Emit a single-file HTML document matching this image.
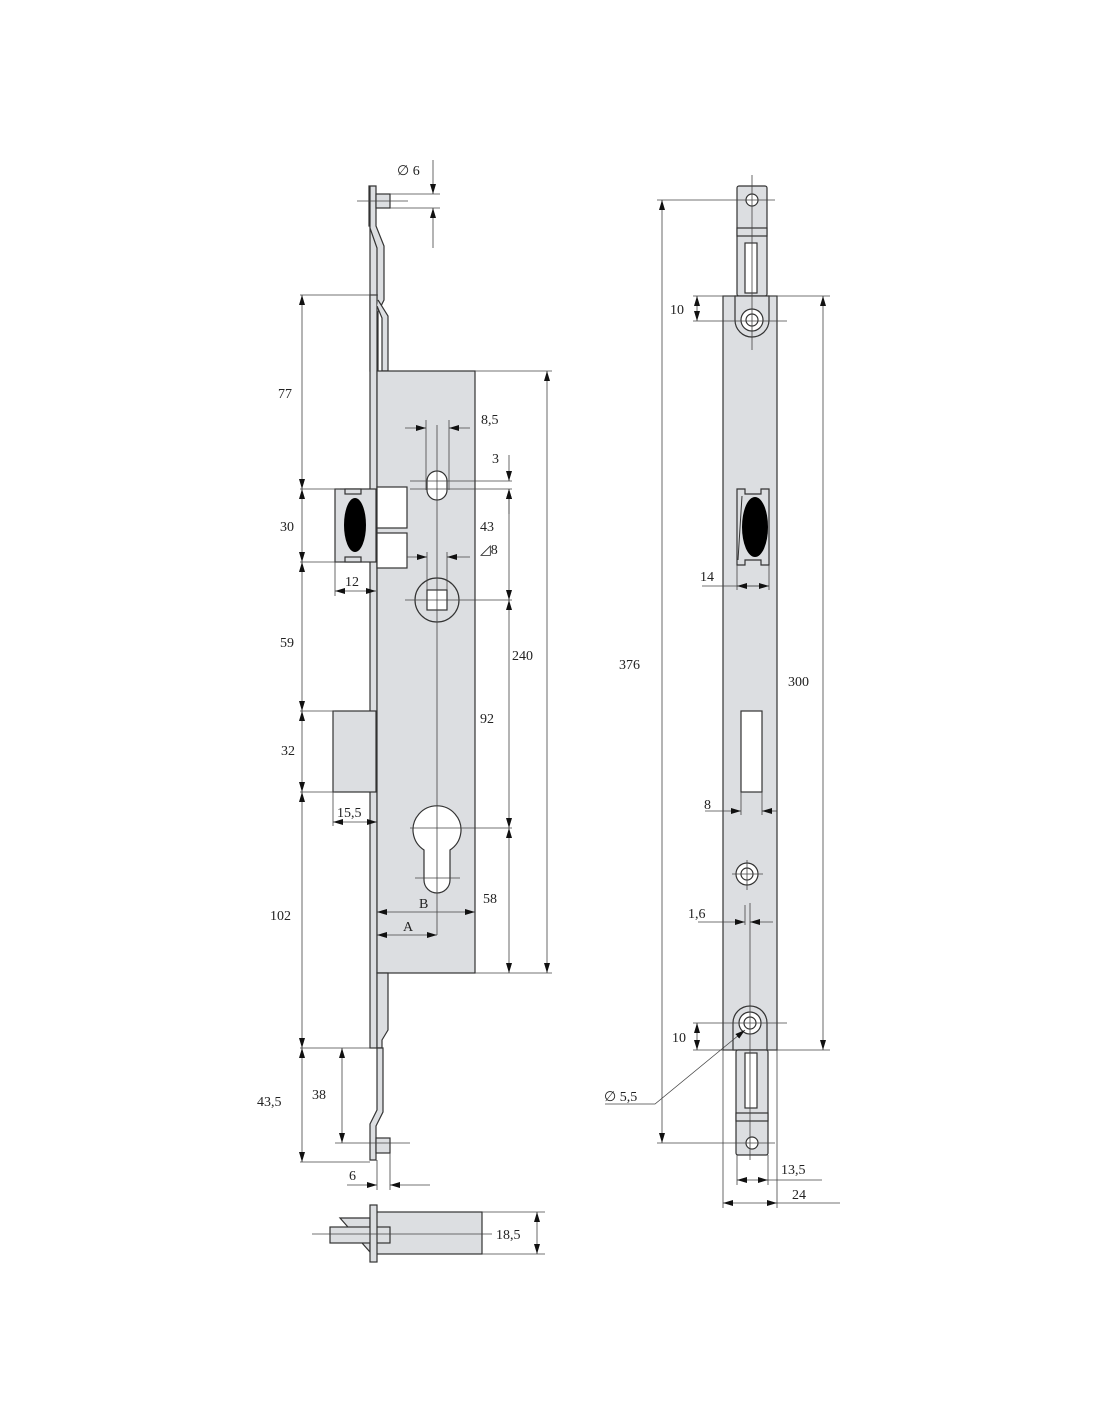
<!DOCTYPE html>
<html><head><meta charset="utf-8"><style>
html,body{margin:0;padding:0;background:#fff}
svg{display:block}
text{font-family:"Liberation Serif",serif;font-size:14px;fill:#222}
</style></head><body>
<svg width="1100" height="1422" viewBox="0 0 1100 1422" xmlns="http://www.w3.org/2000/svg">
<defs>
<marker id="a" viewBox="0 0 10 6" refX="10" refY="3" markerWidth="10" markerHeight="6" orient="auto-start-reverse" markerUnits="userSpaceOnUse"><path d="M0,0L10,3L0,6z" fill="#111"/></marker>
</defs>
<g fill="#dcdee1" stroke="#333" stroke-width="1.2">
<path d="M369,186 L376,186 L376,226 L384,246 L384,300 L378,312 L378,371 L370,371 L370,226 L369,226 Z" />
<path d="M370,186 L370,228 L377,248 L377,300"/>
<rect x="376" y="194" width="14" height="14"/>
<rect x="370" y="295" width="7" height="753"/>
<path d="M378,300 L388,316 L388,371 L382,371 L382,318 L377,306" />
<rect x="377" y="371" width="98" height="602"/>
<rect x="335" y="489" width="41" height="73"/>
<rect x="345" y="489" width="16" height="5"/>
<rect x="345" y="557" width="16" height="5"/>
<rect x="377" y="487" width="30" height="41" fill="#fff"/>
<rect x="377" y="533" width="30" height="35" fill="#fff"/>
<rect x="333" y="711" width="43" height="81"/>
<path d="M377,973 L388,973 L388,1030 L382,1040 L382,1048 L377,1048 Z"/>
<path d="M377,1048 L383,1048 L383,1112 L376,1126 L376,1160 L370,1160 L370,1124 L377,1110 Z"/>
<rect x="376" y="1138" width="14" height="15"/>
<rect x="376" y="1212" width="106" height="42"/>
<path d="M340,1218 L370,1218 L370,1252 Z"/>
<rect x="330" y="1227" width="60" height="16" fill="#dcdee1"/>
<rect x="370" y="1205" width="7" height="57"/>
<rect x="723" y="296" width="54" height="754"/>
<rect x="737" y="186" width="30" height="110" rx="2"/>
<rect x="737" y="228" width="30" height="8"/>
<rect x="745" y="243" width="12" height="50" fill="#fff"/>
<path d="M735,296 L769,296 L769,320 A17,17 0 0 1 735,320 Z"/>
<path d="M737,489 L745,489 L745,494 L761,494 L761,489 L769,489 L769,565 L761,565 L761,560 L745,560 L745,565 L737,565 Z"/>
<rect x="741" y="711" width="21" height="81" fill="#fff"/>
<path d="M733,1050 L767,1050 L767,1023 A17,17 0 0 0 733,1023 Z"/>
<rect x="736" y="1050" width="32" height="105" rx="2"/>
<rect x="736" y="1113" width="32" height="8"/>
<rect x="745" y="1053" width="12" height="55" fill="#fff"/>
</g>
<g fill="#fff" stroke="#333" stroke-width="1.2">
<path d="M427,481 A10,10 0 0 1 447,481 L447,490 A10,10 0 0 1 427,490 Z"/>
<circle cx="437" cy="600" r="22" fill="none"/>
<rect x="427" y="590" width="20" height="20"/>
<path d="M424,850 A24,24 0 1 1 450,850 L450,880 A13,13 0 0 1 424,880 Z"/>
<circle cx="752" cy="200" r="6"/>
<circle cx="752" cy="320" r="11"/>
<circle cx="752" cy="320" r="6"/>
<circle cx="747" cy="874" r="11"/>
<circle cx="747" cy="874" r="6"/>
<circle cx="750" cy="1023" r="11"/>
<circle cx="750" cy="1023" r="6"/>
<circle cx="752" cy="1143" r="6"/>
</g>
<g fill="#000">
<ellipse cx="355" cy="525" rx="11" ry="27"/>
<ellipse cx="755" cy="527" rx="13" ry="30"/>
</g>
<path d="M742,496 L738,560" stroke="#333" fill="none"/>
<g stroke="#444" stroke-width="0.8" fill="none">
<line x1="357" y1="201" x2="408" y2="201"/>
<line x1="390" y1="194" x2="440" y2="194"/><line x1="390" y1="208" x2="440" y2="208"/>
<line x1="433" y1="160" x2="433" y2="194" marker-end="url(#a)"/>
<line x1="433" y1="248" x2="433" y2="208" marker-end="url(#a)"/>
<line x1="300" y1="295" x2="378" y2="295"/>
<line x1="300" y1="489" x2="340" y2="489"/>
<line x1="300" y1="562" x2="340" y2="562"/>
<line x1="300" y1="711" x2="335" y2="711"/>
<line x1="300" y1="792" x2="335" y2="792"/>
<line x1="300" y1="1048" x2="370" y2="1048"/>
<line x1="300" y1="1162" x2="370" y2="1162"/>
<line x1="302" y1="295" x2="302" y2="489" marker-start="url(#a)" marker-end="url(#a)"/>
<line x1="302" y1="489" x2="302" y2="562" marker-start="url(#a)" marker-end="url(#a)"/>
<line x1="302" y1="562" x2="302" y2="711" marker-start="url(#a)" marker-end="url(#a)"/>
<line x1="302" y1="711" x2="302" y2="792" marker-start="url(#a)" marker-end="url(#a)"/>
<line x1="302" y1="792" x2="302" y2="1048" marker-start="url(#a)" marker-end="url(#a)"/>
<line x1="302" y1="1048" x2="302" y2="1162" marker-start="url(#a)" marker-end="url(#a)"/>
<line x1="342" y1="1048" x2="342" y2="1143" marker-start="url(#a)" marker-end="url(#a)"/>
<line x1="335" y1="1143" x2="410" y2="1143"/>
<line x1="335" y1="562" x2="335" y2="596"/>
<line x1="335" y1="591" x2="376" y2="591" marker-start="url(#a)" marker-end="url(#a)"/>
<line x1="333" y1="792" x2="333" y2="826"/>
<line x1="333" y1="822" x2="377" y2="822" marker-start="url(#a)" marker-end="url(#a)"/>
<line x1="377" y1="1160" x2="377" y2="1190"/><line x1="390" y1="1153" x2="390" y2="1190"/>
<line x1="347" y1="1185" x2="377" y2="1185" marker-end="url(#a)"/>
<line x1="430" y1="1185" x2="390" y2="1185" marker-end="url(#a)"/>
<line x1="312" y1="1234" x2="492" y2="1234"/>
<line x1="482" y1="1212" x2="545" y2="1212"/><line x1="482" y1="1254" x2="545" y2="1254"/>
<line x1="537" y1="1212" x2="537" y2="1254" marker-start="url(#a)" marker-end="url(#a)"/>
<line x1="437" y1="425" x2="437" y2="935"/>
<line x1="426" y1="420" x2="426" y2="490"/><line x1="449" y1="420" x2="449" y2="490"/>
<line x1="405" y1="428" x2="426" y2="428" marker-end="url(#a)"/>
<line x1="470" y1="428" x2="449" y2="428" marker-end="url(#a)"/>
<line x1="410" y1="481" x2="512" y2="481"/><line x1="410" y1="489" x2="512" y2="489"/>
<line x1="509" y1="455" x2="509" y2="481" marker-end="url(#a)"/>
<line x1="427" y1="552" x2="427" y2="590"/><line x1="447" y1="552" x2="447" y2="590"/>
<line x1="407" y1="557" x2="427" y2="557" marker-end="url(#a)"/>
<line x1="470" y1="557" x2="447" y2="557" marker-end="url(#a)"/>
<line x1="405" y1="600" x2="512" y2="600"/>
<line x1="509" y1="489" x2="509" y2="600" marker-start="url(#a)" marker-end="url(#a)"/>
<line x1="509" y1="600" x2="509" y2="828" marker-start="url(#a)" marker-end="url(#a)"/>
<line x1="509" y1="828" x2="509" y2="973" marker-start="url(#a)" marker-end="url(#a)"/>
<line x1="410" y1="828" x2="512" y2="828"/>
<line x1="415" y1="878" x2="460" y2="878"/>
<line x1="475" y1="371" x2="552" y2="371"/><line x1="475" y1="973" x2="552" y2="973"/>
<line x1="547" y1="371" x2="547" y2="973" marker-start="url(#a)" marker-end="url(#a)"/>
<line x1="377" y1="912" x2="475" y2="912" marker-start="url(#a)" marker-end="url(#a)"/>
<line x1="377" y1="935" x2="437" y2="935" marker-start="url(#a)" marker-end="url(#a)"/>
<line x1="752" y1="175" x2="752" y2="350"/>
<line x1="657" y1="200" x2="775" y2="200"/>
<line x1="662" y1="200" x2="662" y2="1143" marker-start="url(#a)" marker-end="url(#a)"/>
<line x1="657" y1="1143" x2="775" y2="1143"/>
<line x1="693" y1="296" x2="830" y2="296"/>
<line x1="693" y1="321" x2="787" y2="321"/>
<line x1="697" y1="296" x2="697" y2="321" marker-start="url(#a)" marker-end="url(#a)"/>
<line x1="823" y1="296" x2="823" y2="1050" marker-start="url(#a)" marker-end="url(#a)"/>
<line x1="737" y1="565" x2="737" y2="590"/><line x1="769" y1="565" x2="769" y2="590"/>
<line x1="702" y1="586" x2="769" y2="586"/>
<line x1="737" y1="586" x2="769" y2="586" marker-start="url(#a)" marker-end="url(#a)"/>
<line x1="741" y1="792" x2="741" y2="815"/><line x1="762" y1="792" x2="762" y2="815"/>
<line x1="705" y1="811" x2="741" y2="811" marker-end="url(#a)"/>
<line x1="777" y1="811" x2="762" y2="811" marker-end="url(#a)"/>
<line x1="732" y1="874" x2="763" y2="874"/><line x1="747" y1="860" x2="747" y2="890"/>
<line x1="750" y1="903" x2="750" y2="1160"/>
<line x1="745" y1="905" x2="745" y2="925"/>
<line x1="698" y1="922" x2="745" y2="922" marker-end="url(#a)"/>
<line x1="773" y1="922" x2="750" y2="922" marker-end="url(#a)"/>
<line x1="693" y1="1023" x2="787" y2="1023"/>
<line x1="693" y1="1050" x2="830" y2="1050"/>
<line x1="697" y1="1023" x2="697" y2="1050" marker-start="url(#a)" marker-end="url(#a)"/>
<path d="M605,1104 L655,1104 L745,1030" marker-end="url(#a)"/>
<line x1="737" y1="1155" x2="737" y2="1185"/><line x1="768" y1="1155" x2="768" y2="1185"/>
<line x1="737" y1="1180" x2="768" y2="1180" marker-start="url(#a)" marker-end="url(#a)"/>
<line x1="768" y1="1180" x2="822" y2="1180"/>
<line x1="723" y1="1050" x2="723" y2="1208"/><line x1="777" y1="1050" x2="777" y2="1208"/>
<line x1="723" y1="1203" x2="777" y2="1203" marker-start="url(#a)" marker-end="url(#a)"/>
<line x1="777" y1="1203" x2="840" y2="1203"/>
</g>
<line x1="509" y1="514" x2="509" y2="489" stroke="#444" stroke-width="0.8" marker-end="url(#a)"/>
<text x="397" y="175">∅ 6</text>
<text x="278" y="398">77</text>
<text x="280" y="531">30</text>
<text x="280" y="647">59</text>
<text x="281" y="755">32</text>
<text x="270" y="920">102</text>
<text x="257" y="1106">43,5</text>
<text x="312" y="1099">38</text>
<text x="345" y="586">12</text>
<text x="337" y="817">15,5</text>
<text x="349" y="1180">6</text>
<text x="496" y="1239">18,5</text>
<text x="481" y="424">8,5</text>
<text x="492" y="463">3</text>
<text x="480" y="531">43</text>
<text x="480" y="554">◿8</text>
<text x="512" y="660">240</text>
<text x="480" y="723">92</text>
<text x="483" y="903">58</text>
<text x="419" y="908">B</text>
<text x="403" y="931">A</text>
<text x="619" y="669">376</text>
<text x="788" y="686">300</text>
<text x="670" y="314">10</text>
<text x="700" y="581">14</text>
<text x="704" y="809">8</text>
<text x="688" y="918">1,6</text>
<text x="672" y="1042">10</text>
<text x="604" y="1101">∅ 5,5</text>
<text x="781" y="1174">13,5</text>
<text x="792" y="1199">24</text>
</svg>
</body></html>
